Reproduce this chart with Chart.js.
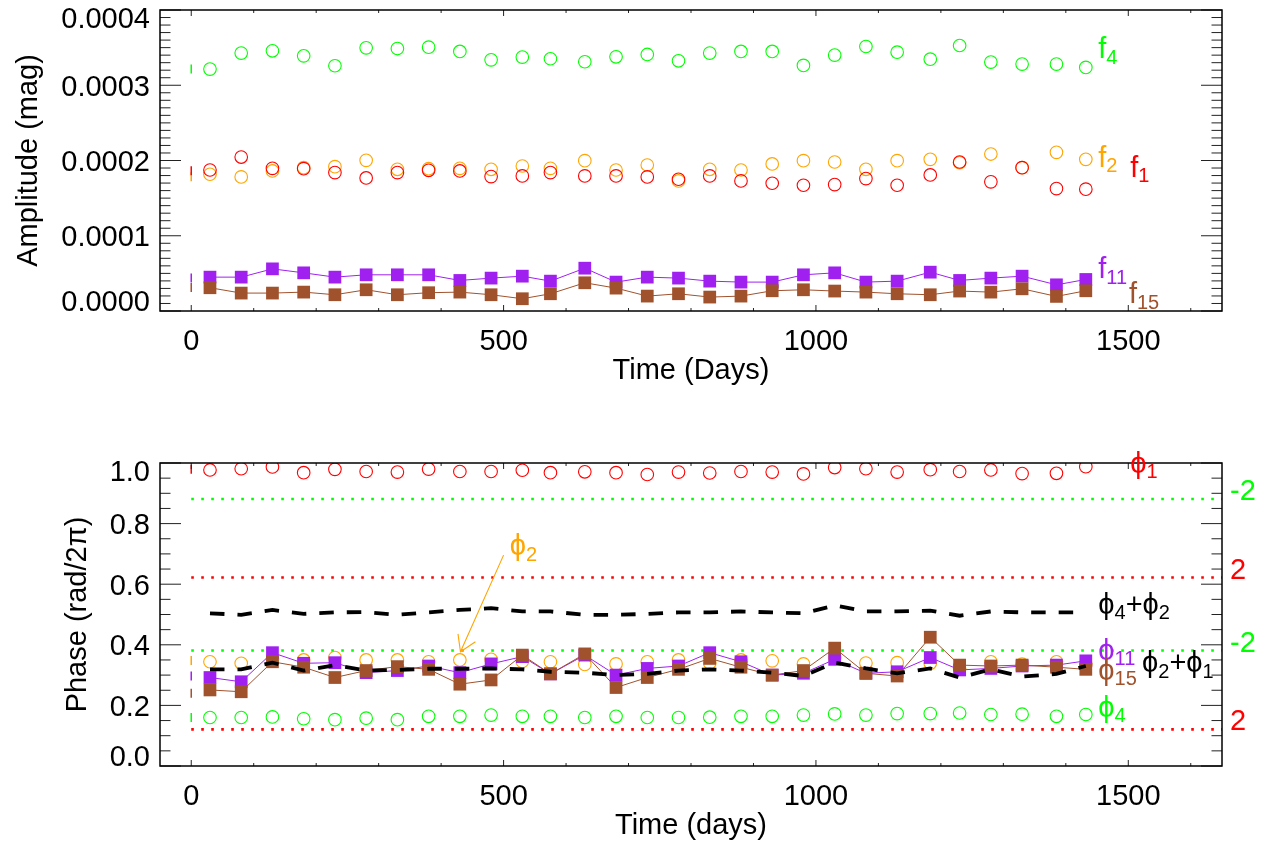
<!DOCTYPE html>
<html>
<head>
<meta charset="utf-8">
<script src="https://cdn.jsdelivr.net/npm/chart.js@4"></script>
<style>
html, body { margin: 0; padding: 0; background: #ffffff; }
#wrap { position: relative; width: 1270px; height: 850px; }
#wrap canvas { position: absolute; left: 0; top: 0; }
</style>
</head>
<body>
<div id="wrap">
  <canvas id="ampChart" width="1270" height="850"></canvas>
  <canvas id="phaseChart" width="1270" height="850"></canvas>
</div>
<script>
// ---------------- data ----------------
const timeDays = [0, 30, 80, 130, 180, 230, 280, 330, 380, 430, 480, 530, 575, 630, 680, 730,
                  780, 830, 880, 930, 980, 1030, 1080, 1130, 1183, 1230, 1280, 1330, 1385, 1432];

// amplitudes (mag)
const ampF4  = [0.0003215, 0.0003215, 0.0003427, 0.0003458, 0.0003391, 0.0003259, 0.0003497, 0.0003488,
                0.0003506, 0.0003449, 0.0003338, 0.0003374, 0.0003352, 0.0003312, 0.0003378, 0.0003409,
                0.0003325, 0.0003427, 0.0003449, 0.0003449, 0.0003264, 0.0003401, 0.0003515, 0.0003440,
                0.0003347, 0.0003528, 0.0003308, 0.0003281, 0.0003281, 0.0003237];
const ampF1  = [0.0001864, 0.0001874, 0.0002046, 0.0001896, 0.0001892, 0.0001839, 0.0001768, 0.0001839,
                0.0001870, 0.0001861, 0.0001786, 0.0001795, 0.0001839, 0.0001795, 0.0001795, 0.0001782,
                0.0001751, 0.0001795, 0.0001729, 0.0001698, 0.0001671, 0.0001680, 0.0001760, 0.0001671,
                0.0001808, 0.0001980, 0.0001716, 0.0001905, 0.0001627, 0.0001619];
const ampF2  = [0.0001785, 0.0001817, 0.0001782, 0.0001861, 0.0001905, 0.0001918, 0.0002002, 0.0001883,
                0.0001892, 0.0001896, 0.0001883, 0.0001927, 0.0001896, 0.0001998, 0.0001874, 0.0001940,
                0.0001729, 0.0001883, 0.0001874, 0.0001954, 0.0001998, 0.0001980, 0.0001883, 0.0001998,
                0.0002015, 0.0001970, 0.0002086, 0.0001905, 0.0002108, 0.0002015];
const ampF11 = [0.0000437, 0.0000450, 0.0000450, 0.0000560, 0.0000507, 0.0000450, 0.0000481, 0.0000481,
                0.0000481, 0.0000406, 0.0000437, 0.0000463, 0.0000397, 0.0000569, 0.0000384, 0.0000450,
                0.0000437, 0.0000397, 0.0000384, 0.0000384, 0.0000481, 0.0000507, 0.0000384, 0.0000397,
                0.0000516, 0.0000406, 0.0000437, 0.0000463, 0.0000348, 0.0000419];
const ampF15 = [0.0000313, 0.0000309, 0.0000238, 0.0000238, 0.0000251, 0.0000216, 0.0000282, 0.0000216,
                0.0000243, 0.0000251, 0.0000216, 0.0000163, 0.0000229, 0.0000375, 0.0000304, 0.0000198,
                0.0000229, 0.0000185, 0.0000198, 0.0000269, 0.0000282, 0.0000265, 0.0000251, 0.0000229,
                0.0000216, 0.0000265, 0.0000251, 0.0000295, 0.0000194, 0.0000269];

// phases (rad / 2 pi)
const phi1  = [0.979, 0.977, 0.981, 0.987, 0.968, 0.979, 0.972, 0.970, 0.980, 0.972, 0.972, 0.976, 0.968, 0.971,
               0.968, 0.962, 0.970, 0.967, 0.972, 0.970, 0.964, 0.985, 0.981, 0.970, 0.978, 0.972, 0.977, 0.965,
               0.966, 0.988];
const phi4  = [0.160, 0.160, 0.160, 0.162, 0.156, 0.153, 0.158, 0.153, 0.164, 0.164, 0.168, 0.164, 0.164, 0.160,
               0.164, 0.160, 0.160, 0.161, 0.164, 0.164, 0.168, 0.172, 0.168, 0.173, 0.173, 0.175, 0.170, 0.171,
               0.164, 0.170];
const phi2  = [0.348, 0.344, 0.339, 0.353, 0.350, 0.358, 0.350, 0.350, 0.344, 0.350, 0.352, 0.345, 0.344, 0.335,
               0.337, 0.344, 0.350, 0.340, 0.350, 0.347, 0.337, 0.358, 0.340, 0.341, 0.339, 0.321, 0.344, 0.336,
               0.344, 0.337];
const phi11 = [0.297, 0.292, 0.278, 0.374, 0.339, 0.341, 0.308, 0.315, 0.330, 0.308, 0.337, 0.361, 0.304, 0.366,
               0.300, 0.322, 0.330, 0.374, 0.344, 0.300, 0.306, 0.352, 0.306, 0.311, 0.358, 0.317, 0.322, 0.330,
               0.333, 0.347];
const phi15 = [0.240, 0.251, 0.245, 0.344, 0.326, 0.292, 0.315, 0.328, 0.319, 0.270, 0.284, 0.366, 0.304, 0.370,
               0.259, 0.292, 0.319, 0.355, 0.326, 0.300, 0.315, 0.389, 0.306, 0.297, 0.425, 0.333, 0.330, 0.333,
               0.326, 0.319];
const phi4plus2 = [null, 0.504, 0.499, 0.515, 0.502, 0.507, 0.508, 0.499, 0.507, 0.515, 0.521, 0.510, 0.510, 0.499,
                   0.499, 0.502, 0.507, 0.507, 0.510, 0.507, 0.504, 0.530, 0.510, 0.510, 0.513, 0.496, 0.510, 0.507,
                   0.507, 0.507];
const phi2plus1 = [null, 0.319, 0.319, 0.341, 0.315, 0.333, 0.315, 0.317, 0.321, 0.321, 0.322, 0.319, 0.311, 0.308,
                   0.300, 0.304, 0.315, 0.319, 0.315, 0.308, 0.297, 0.341, 0.322, 0.306, 0.322, 0.292, 0.319, 0.295,
                   0.304, 0.330];

// horizontal reference levels and their labels
const refSpanDays   = [0, 1650];
const refGreenLevels = [0.881, 0.381];
const refGreenLabels = ['-2', '-2'];
const refRedLevels   = [0.622, 0.121];
const refRedLabels   = ['2', '2'];

// axis ranges and tick labels
const xRange = [-50, 1650];
const ampRange = [0, 0.0004];
const phaseRange = [0, 1];
const xTickValues = [0, 500, 1000, 1500];
const xTickLabels = ['0', '500', '1000', '1500'];
const ampTickValues = [0, 0.0001, 0.0002, 0.0003, 0.0004];
const ampTickLabels = ['0.0000', '0.0001', '0.0002', '0.0003', '0.0004'];
const phaseTickValues = [0, 0.2, 0.4, 0.6, 0.8, 1.0];
const phaseTickLabels = ['0.0', '0.2', '0.4', '0.6', '0.8', '1.0'];

// ---------------- styling ----------------
const FONT = '"Liberation Sans", Arial, Helvetica, sans-serif';
const GREEN = '#00ff00', RED = '#ff0000', ORANGE = '#ffa500', PURPLE = '#a020f0', BROWN = '#a0522d', BLACK = '#000000';

function pairs(values) {
  return timeDays.map((t, i) => ({ x: t, y: values[i] })).filter(p => p.y !== null);
}

function circleSet(values, color, order) {
  return {
    data: pairs(values), showLine: false, order: order, clip: 0,
    borderColor: color, backgroundColor: 'rgba(0,0,0,0)',
    pointStyle: c => c.dataIndex === 0 ? 'line' : 'circle',
    pointRotation: c => c.dataIndex === 0 ? 90 : 0,
    pointRadius: c => c.dataIndex === 0 ? 4.5 : 6.3,
    pointBorderWidth: c => c.dataIndex === 0 ? 1.5 : 1.1,
    pointBorderColor: color, pointBackgroundColor: 'rgba(0,0,0,0)'
  };
}

function squareSet(values, color, order) {
  return {
    data: pairs(values), showLine: true, order: order, clip: 0,
    borderColor: color, borderWidth: 1, tension: 0,
    segment: { borderColor: c => c.p0DataIndex === 0 ? 'rgba(0,0,0,0)' : undefined },
    pointStyle: c => c.dataIndex === 0 ? 'line' : 'rect',
    pointRotation: c => c.dataIndex === 0 ? 90 : 0,
    pointRadius: c => c.dataIndex === 0 ? 4.5 : 9,
    pointBorderWidth: c => c.dataIndex === 0 ? 1.5 : 0,
    pointBorderColor: color, pointBackgroundColor: color
  };
}

function dashedSet(values, order) {
  return {
    data: pairs(values), showLine: true, order: order, clip: 0,
    borderColor: BLACK, borderWidth: 3.8, borderDash: [14.5, 13], tension: 0,
    pointRadius: 0
  };
}

function refSet(level, color) {
  return {
    data: refSpanDays.map(d => ({ x: d, y: level })), showLine: true, order: 9, clip: 0,
    borderColor: color, borderWidth: 2.6, borderDash: [2.6, 7.4], pointRadius: 0
  };
}

function drawRich(ctx, x, y, parts, color) {
  ctx.fillStyle = color;
  ctx.textAlign = 'left';
  ctx.textBaseline = 'alphabetic';
  let cx = x;
  for (const [t, sub] of parts) {
    ctx.font = (sub ? 20 : 29) + 'px ' + FONT;
    ctx.fillText(t, cx, y + (sub ? 5.5 : 0));
    cx += ctx.measureText(t).width;
  }
}

function makeFrame(cfg) {
  return {
    id: 'frame_' + cfg.name,
    afterDraw(chart) {
      const ctx = chart.ctx;
      const xs = chart.scales.x, ys = chart.scales.y;
      const { left, right, top, bottom } = chart.chartArea;
      ctx.save();
      // inward tick marks on all four sides
      ctx.strokeStyle = '#222';
      ctx.lineWidth = 1;
      ctx.beginPath();
      for (let v = 0; v <= 1600; v += 100) {
        const px = xs.getPixelForValue(v);
        const len = xTickValues.includes(v) ? 6 : 3;
        ctx.moveTo(px, bottom); ctx.lineTo(px, bottom - len);
        ctx.moveTo(px, top); ctx.lineTo(px, top + len);
      }
      const n = Math.round((cfg.yRange[1] - cfg.yRange[0]) / cfg.yMinor);
      for (let k = 0; k <= n; k++) {
        const v = cfg.yRange[0] + k * cfg.yMinor;
        const py = ys.getPixelForValue(v);
        const major = cfg.yTickValues.some(t => Math.abs(t - v) < cfg.yMinor * 0.01);
        const len = major ? 21 : 10.5;
        ctx.moveTo(left, py); ctx.lineTo(left + len, py);
        ctx.moveTo(right, py); ctx.lineTo(right - len, py);
      }
      ctx.stroke();
      // box
      ctx.strokeStyle = '#000';
      ctx.lineWidth = 1.5;
      ctx.strokeRect(left, top, right - left, bottom - top);
      // tick labels
      ctx.fillStyle = '#000';
      ctx.font = '29px ' + FONT;
      ctx.textBaseline = 'alphabetic';
      ctx.textAlign = 'center';
      xTickValues.forEach((v, i) => ctx.fillText(xTickLabels[i], xs.getPixelForValue(v), bottom + 39));
      ctx.textAlign = 'right';
      const last = cfg.yTickValues.length - 1;
      cfg.yTickValues.forEach((v, i) => {
        const py = ys.getPixelForValue(v);
        let base = py + 10.5;
        if (i === last) base = py + 18;
        if (i === 0) base = py - 0.5;
        ctx.fillText(cfg.yTickLabels[i], left - 10, base);
      });
      // axis titles
      ctx.textAlign = 'center';
      ctx.fillText(cfg.xTitle, (left + right) / 2, bottom + 68);
      ctx.save();
      ctx.translate(left - cfg.yTitleGap, (top + bottom) / 2);
      ctx.rotate(-Math.PI / 2);
      ctx.fillText(cfg.yTitle, 0, 0);
      ctx.restore();
      // series labels
      for (const note of cfg.notes) {
        drawRich(ctx, xs.getPixelForValue(note.x), ys.getPixelForValue(note.y), note.parts, note.color);
      }
      // arrow
      if (cfg.arrow) {
        const a = cfg.arrow;
        const x0 = xs.getPixelForValue(a.from[0]), y0 = ys.getPixelForValue(a.from[1]);
        const x1 = xs.getPixelForValue(a.to[0]), y1 = ys.getPixelForValue(a.to[1]);
        const ang = Math.atan2(y0 - y1, x0 - x1);
        const head = 18, spread = 32 * Math.PI / 180;
        ctx.strokeStyle = a.color;
        ctx.lineWidth = 1.1;
        ctx.beginPath();
        ctx.moveTo(x0, y0); ctx.lineTo(x1, y1);
        ctx.moveTo(x1 + head * Math.cos(ang - spread), y1 + head * Math.sin(ang - spread));
        ctx.lineTo(x1, y1);
        ctx.lineTo(x1 + head * Math.cos(ang + spread), y1 + head * Math.sin(ang + spread));
        ctx.stroke();
      }
      // labels of reference levels (right of the frame)
      if (cfg.refLabels) {
        ctx.font = '29px ' + FONT;
        ctx.textAlign = 'left';
        for (const r of cfg.refLabels) {
          ctx.fillStyle = r.color;
          ctx.fillText(r.text, right + 8, ys.getPixelForValue(r.y) + 1);
        }
      }
      ctx.restore();
    }
  };
}

function baseOptions(range, padding) {
  return {
    responsive: false, animation: false, events: [],
    layout: { padding: padding },
    plugins: { legend: { display: false }, tooltip: { enabled: false } },
    scales: {
      x: { type: 'linear', display: false, min: xRange[0], max: xRange[1] },
      y: { type: 'linear', display: false, min: range[0], max: range[1] }
    }
  };
}

// ---------------- top panel: amplitudes ----------------
new Chart(document.getElementById('ampChart'), {
  type: 'scatter',
  data: {
    datasets: [
      circleSet(ampF4, GREEN, 5),
      circleSet(ampF2, ORANGE, 5),
      circleSet(ampF1, RED, 4),
      squareSet(ampF11, PURPLE, 2),
      squareSet(ampF15, BROWN, 1)
    ]
  },
  options: baseOptions(ampRange, { left: 160, right: 48, top: 10, bottom: 539 }),
  plugins: [makeFrame({
    name: 'amp', yRange: ampRange, yMinor: 0.00001,
    yTickValues: ampTickValues, yTickLabels: ampTickLabels,
    xTitle: 'Time (Days)', yTitle: 'Amplitude (mag)', yTitleGap: 123,
    notes: [
      { x: 1452, y: 0.0003362, color: GREEN,  parts: [['f', 0], ['4', 1]] },
      { x: 1452, y: 0.0001914, color: ORANGE, parts: [['f', 0], ['2', 1]] },
      { x: 1503, y: 0.0001781, color: RED,    parts: [['f', 0], ['1', 1]] },
      { x: 1452, y: 0.0000438, color: PURPLE, parts: [['f', 0], ['11', 1]] },
      { x: 1501, y: 0.0000106, color: BROWN,  parts: [['f', 0], ['15', 1]] }
    ]
  })]
});

// ---------------- bottom panel: phases ----------------
const refLabelList = [];
refGreenLevels.forEach((v, i) => refLabelList.push({ y: v, text: refGreenLabels[i], color: GREEN }));
refRedLevels.forEach((v, i) => refLabelList.push({ y: v, text: refRedLabels[i], color: RED }));

new Chart(document.getElementById('phaseChart'), {
  type: 'scatter',
  data: {
    datasets: [
      ...refGreenLevels.map(v => refSet(v, GREEN)),
      ...refRedLevels.map(v => refSet(v, RED)),
      circleSet(phi1, RED, 6),
      circleSet(phi4, GREEN, 6),
      circleSet(phi2, ORANGE, 6),
      squareSet(phi11, PURPLE, 3),
      squareSet(phi15, BROWN, 2),
      dashedSet(phi4plus2, 1),
      dashedSet(phi2plus1, 1)
    ]
  },
  options: baseOptions(phaseRange, { left: 160, right: 48, top: 463, bottom: 84 }),
  plugins: [makeFrame({
    name: 'phase', yRange: phaseRange, yMinor: 0.05,
    yTickValues: phaseTickValues, yTickLabels: phaseTickLabels,
    xTitle: 'Time (days)', yTitle: 'Phase (rad/2\u03c0)', yTitleGap: 74,
    notes: [
      { x: 1503, y: 0.967, color: RED,    parts: [['\u03d5', 0], ['1', 1]] },
      { x: 510,  y: 0.696, color: ORANGE, parts: [['\u03d5', 0], ['2', 1]] },
      { x: 1452, y: 0.502, color: BLACK,  parts: [['\u03d5', 0], ['4', 1], ['+', 0], ['\u03d5', 0], ['2', 1]] },
      { x: 1452, y: 0.350, color: PURPLE, parts: [['\u03d5', 0], ['11', 1]] },
      { x: 1452, y: 0.284, color: BROWN,  parts: [['\u03d5', 0], ['15', 1]] },
      { x: 1522, y: 0.310, color: BLACK,  parts: [['\u03d5', 0], ['2', 1], ['+', 0], ['\u03d5', 0], ['1', 1]] },
      { x: 1452, y: 0.162, color: GREEN,  parts: [['\u03d5', 0], ['4', 1]] }
    ],
    arrow: { from: [500, 0.696], to: [431, 0.377], color: ORANGE },
    refLabels: refLabelList
  })]
});
</script>
</body>
</html>
